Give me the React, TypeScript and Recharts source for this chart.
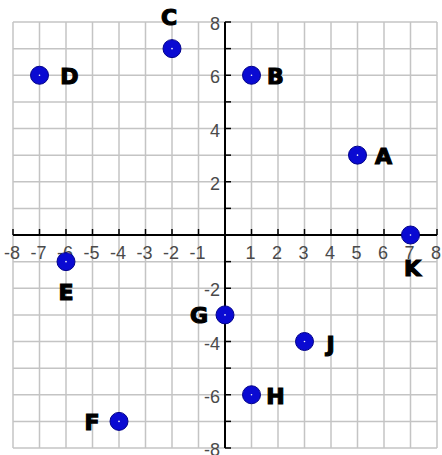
import {
  ScatterChart, Scatter, XAxis, YAxis, CartesianGrid,
  ReferenceLine, ReferenceDot
} from 'recharts'

// points
const names = ['A', 'B', 'C', 'D', 'E', 'F', 'G', 'H', 'J', 'K']
const xs = [5, 1, -2, -7, -6, -4, 0, 1, 3, 7]
const ys = [3, 6, 7, 6, -1, -7, -3, -6, -4, 0]

const gridTicks = [-8, -7, -6, -5, -4, -3, -2, -1, 0, 1, 2, 3, 4, 5, 6, 7, 8]
const xTickLabels = [-8, -7, -6, -5, -4, -3, -2, -1, 1, 2, 3, 4, 5, 6, 7, 8]
const yTickLabels = [8, 6, 4, 2, -2, -4, -6, -8]

const data = names.map((name, i) => ({ name, x: xs[i], y: ys[i] }))

// where each letter sits relative to its dot (px)
const labelOffset: Record<string, [number, number]> = {
  A: [26, 1], B: [24, 1], C: [-3, -31], D: [30, 1], E: [0, 31],
  F: [-27, 1], G: [-26, 1], H: [24, 2], J: [26, 3], K: [2, 33],
}

const numFont = '"Liberation Sans", Arial, sans-serif'
const letterFont = '"DejaVu Sans", Verdana, sans-serif'

const PointShape = (props: any) => {
  const { cx, cy, payload } = props
  const [dx, dy] = labelOffset[payload.name] ?? [24, 0]
  return (
    <g>
      <circle cx={cx} cy={cy} r={9} fill="#0a0ad2" stroke="#00008a" strokeWidth={1} />
      <circle cx={cx} cy={cy} r={0.8} fill="#ffffff" />
      <text
        x={cx + dx} y={cy + dy} textAnchor="middle" dominantBaseline="central"
        fontFamily={letterFont} fontWeight={900} fontSize={22} fill="#000"
        stroke="#000" strokeWidth={1.2}
      >
        {payload.name}
      </text>
    </g>
  )
}

const XTick = (props: any) => {
  const { cx, cy, label } = props
  return (
    <g>
      <line x1={cx} y1={cy} x2={cx} y2={cy - 6} stroke="#000" strokeWidth={1.5} />
      {label != null && (
        <text x={cx - 1} y={cy + 18} textAnchor="middle" dominantBaseline="central"
          fontFamily={numFont} fontSize={18} fill="#4a4a4a">{label}</text>
      )}
    </g>
  )
}

const YTick = (props: any) => {
  const { cx, cy, label } = props
  return (
    <g>
      <line x1={cx} y1={cy} x2={cx + 6} y2={cy} stroke="#000" strokeWidth={1.5} />
      {label != null && (
        <text x={cx - 5} y={cy + 2} textAnchor="end" dominantBaseline="central"
          fontFamily={numFont} fontSize={18} fill="#4a4a4a">{label}</text>
      )}
    </g>
  )
}

export default function App() {
  return (
    <div style={{ width: 442, height: 455, background: '#fff' }}>
      <style>{'body{margin:0}'}</style>
      <ScatterChart width={442} height={455} margin={{ top: 22, right: 5, bottom: 7, left: 13 }}>
        <CartesianGrid stroke="#c4c4c4" strokeWidth={1.5} />
        <XAxis type="number" dataKey="x" domain={[-8, 8]} ticks={gridTicks} hide />
        <YAxis type="number" dataKey="y" domain={[-8, 8]} ticks={gridTicks} hide />
        <ReferenceLine x={0} stroke="#000" strokeWidth={2} />
        <ReferenceLine y={0} stroke="#000" strokeWidth={2} />
        {gridTicks.map((t) => (
          <ReferenceDot key={'xt' + t} x={t} y={0} r={0}
            shape={(p: any) => <XTick {...p} label={xTickLabels.includes(t) ? t : null} />} />
        ))}
        {gridTicks.map((t) => (
          <ReferenceDot key={'yt' + t} x={0} y={t} r={0}
            shape={(p: any) => <YTick {...p} label={yTickLabels.includes(t) ? t : null} />} />
        ))}
        <Scatter data={data} shape={<PointShape />} isAnimationActive={false} />
      </ScatterChart>
    </div>
  )
}
